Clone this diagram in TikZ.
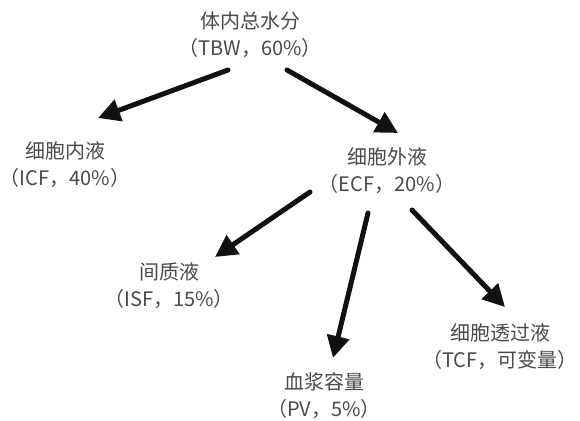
\documentclass[tikz,border=0pt]{standalone}
\usepackage{fontspec}
\newfontfamily\cjk{Noto Sans CJK SC}
\usetikzlibrary{arrows.meta}
\definecolor{txtgray}{HTML}{4A4A4A}
\definecolor{arrowblk}{HTML}{111111}
\begin{document}
\begin{tikzpicture}[x=1pt,y=-1pt,
  lbl/.style={align=center,text=txtgray,font=\cjk\fontsize{20}{27}\selectfont,inner sep=0pt},
  bigarrow/.style={draw=arrowblk,line width=5pt,line cap=round,
    -{Triangle[length=22pt,width=22pt]}}]
\useasboundingbox (0,0) rectangle (580,420);
\node[lbl] (tbw) at (250,35) {体内总水分\\（TBW，60\%）};
\node[lbl] (icf) at (65,165) {细胞内液\\（ICF，40\%）};
\node[lbl] (ecf) at (387,171) {细胞外液\\（ECF，20\%）};
\node[lbl] (isf) at (169,286) {间质液\\（ISF，15\%）};
\node[lbl] (pv) at (324,396) {血浆容量\\（PV，5\%）};
\node[lbl] (tcf) at (500,347) {细胞透过液\\（TCF，可变量）};
\coordinate (s1) at (228,70); \coordinate (e1) at (98,118);
\coordinate (s2) at (287,70); \coordinate (e2) at (398,133);
\coordinate (s3) at (310,192); \coordinate (e3) at (215,257);
\coordinate (s4) at (368,213); \coordinate (e4) at (333,358);
\coordinate (s5) at (412,210); \coordinate (e5) at (505,307);
\draw[bigarrow] (s1) -- (e1);
\draw[bigarrow] (s2) -- (e2);
\draw[bigarrow] (s3) -- (e3);
\draw[bigarrow] (s4) -- (e4);
\draw[bigarrow] (s5) -- (e5);
\end{tikzpicture}
\end{document}
